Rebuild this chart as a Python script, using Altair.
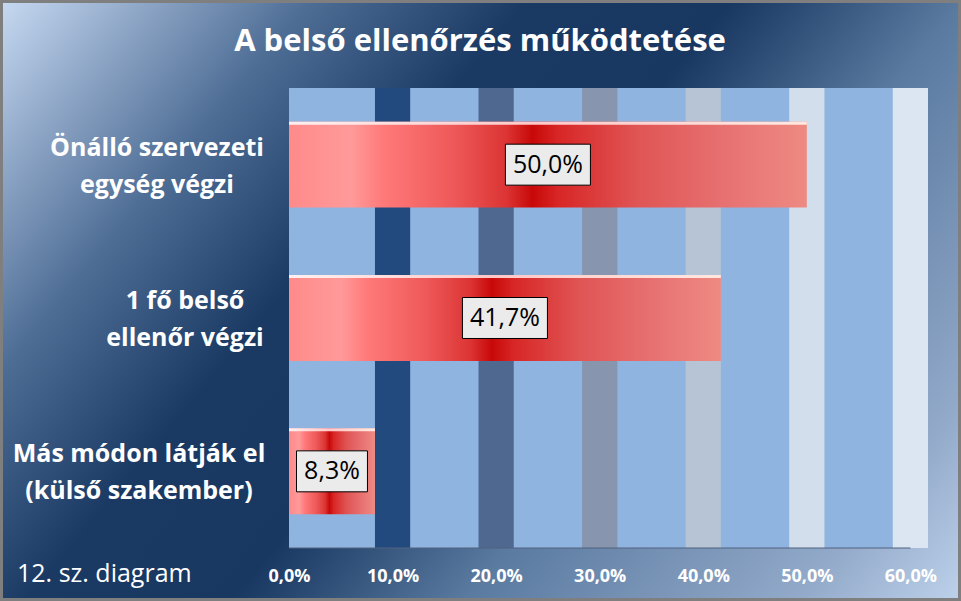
import altair as alt
import pandas as pd

# ---- data ----
categories = ["Önálló szervezeti\negység végzi", "1 fő belső\nellenőr végzi", "Más módon látják el\n(külső szakember)"]
shares = [0.500, 0.417, 0.083]
tick_values = [0.0, 0.1, 0.2, 0.3, 0.4, 0.5, 0.6]
band_ticks = [0.1, 0.2, 0.3, 0.4, 0.5, 0.6]
title_text = "A belső ellenőrzés működtetése"
footnote = "12. sz. diagram"

# ---- styles ----
band_colors = ["#234A7E", "#4E6890", "#8796AE", "#B7C4D6", "#D3DEEC", "#DCE6F2"]
ylab_centers = [-132, -104, -150]
W, H = 639, 460
PAD = {"left": 289, "top": 88, "right": 33, "bottom": 53}
X_MAX = 0.617
FONT = "Open Sans"

df = pd.DataFrame({"cat": categories, "share": shares})
bands = pd.DataFrame({"tick": band_ticks, "color": band_colors})

xscale = alt.Scale(domain=[0, X_MAX], nice=False, zero=True)
yscale = alt.Scale(domain=categories, paddingInner=0.44, paddingOuter=0.22)
one = alt.Data(values=[{}])

x_axis = alt.Axis(
    values=tick_values,
    labelExpr="replace(format(datum.value, '.1%'), '.', ',')",
    domain=False, ticks=False, grid=False, title=None,
    labelColor="white", labelFont=FONT, labelFontWeight="bold", labelFontSize=18,
    labelPadding=19, labelFlush=False, labelOverlap=False, zindex=1,
)

bg_grad = alt.LinearGradient(
    gradient="linear", x1=0, y1=0, x2=1.197, y2=0.624,
    stops=[
        alt.GradientStop(offset=0.0, color="#C6D9F1"),
        alt.GradientStop(offset=0.10, color="#8EA6C6"),
        alt.GradientStop(offset=0.21, color="#4F6E96"),
        alt.GradientStop(offset=0.36, color="#1A3A64"),
        alt.GradientStop(offset=0.50, color="#183761"),
        alt.GradientStop(offset=0.66, color="#5A7AA0"),
        alt.GradientStop(offset=0.89, color="#93AACA"),
        alt.GradientStop(offset=1.0, color="#BDD1EA"),
    ],
)
bg = alt.Chart(one).mark_rect(fill=bg_grad, stroke="#7F7F7F", strokeWidth=3).encode(
    x=alt.value(-PAD["left"] + 1.5), x2=alt.value(W + PAD["right"] - 1.5),
    y=alt.value(-PAD["top"] + 1.5), y2=alt.value(H + PAD["bottom"] - 1.5),
)

plot_bg = alt.Chart(one).mark_rect(color="#8FB4E0").encode(
    x=alt.value(0), x2=alt.value(W), y=alt.value(0), y2=alt.value(H)
)

band_layer = alt.Chart(bands).transform_calculate(
    lo="datum.tick - 0.017", hi="datum.tick + 0.017"
).mark_rect().encode(
    x=alt.X("lo:Q", scale=xscale, axis=x_axis),
    x2="hi:Q",
    y=alt.value(0), y2=alt.value(H),
    color=alt.Color("color:N", scale=None),
)

rule = alt.Chart(alt.Data(values=[{"a": tick_values[0], "b": tick_values[-1]}])).mark_rule(
    color="#50627E", strokeWidth=1
).encode(x=alt.X("a:Q", scale=xscale, axis=x_axis), x2="b:Q", y=alt.value(H))

bar_grad = alt.LinearGradient(
    gradient="linear", x1=0, y1=0, x2=1, y2=0,
    stops=[
        alt.GradientStop(offset=0.0, color="#FF8A8A"),
        alt.GradientStop(offset=0.12, color="#FF9A9A"),
        alt.GradientStop(offset=0.18, color="#FF7A7A"),
        alt.GradientStop(offset=0.32, color="#EE5858"),
        alt.GradientStop(offset=0.42, color="#DC3434"),
        alt.GradientStop(offset=0.47, color="#C80808"),
        alt.GradientStop(offset=0.52, color="#D82626"),
        alt.GradientStop(offset=0.67, color="#E05454"),
        alt.GradientStop(offset=0.86, color="#E87474"),
        alt.GradientStop(offset=1.0, color="#EE8A82"),
    ],
)
hl_grad = alt.LinearGradient(
    gradient="linear", x1=0, y1=0, x2=1, y2=0,
    stops=[
        alt.GradientStop(offset=0.0, color="#FFF0F0"),
        alt.GradientStop(offset=0.47, color="#FFC8C8"),
        alt.GradientStop(offset=1.0, color="#FFE8E0"),
    ],
)

bars = alt.Chart(df).mark_bar(fill=bar_grad).encode(
    x=alt.X("share:Q", scale=xscale, axis=x_axis),
    y=alt.Y("cat:N", scale=yscale, axis=None, sort=None),
)
hl = alt.Chart(df).mark_bar(fill=hl_grad, size=3, yOffset=-41.5).encode(
    x=alt.X("share:Q", scale=xscale, axis=x_axis),
    y=alt.Y("cat:N", scale=yscale, axis=None, sort=None),
)

path5 = "M-1,-0.482L1,-0.482L1,0.482L-1,0.482Z"
path4 = "M-0.835,-0.482L0.835,-0.482L0.835,0.482L-0.835,0.482Z"
lab_base = alt.Chart(df).transform_calculate(
    mid="datum.share / 2",
    label="replace(format(datum.share, '.1%'), '.', ',')",
)
boxes = lab_base.mark_point(
    filled=True, fill="#EBEBEB", stroke="#000000", strokeWidth=1,
    opacity=1, fillOpacity=1, strokeOpacity=1, size=7225,
).encode(
    x=alt.X("mid:Q", scale=xscale, axis=x_axis),
    y=alt.Y("cat:N", scale=yscale, axis=None, sort=None),
    shape=alt.condition("length(datum.label) == 4", alt.value(path4), alt.value(path5)),
)
labels = lab_base.mark_text(font=FONT, fontSize=25, color="#000000", baseline="middle", align="center").encode(
    x=alt.X("mid:Q", scale=xscale, axis=x_axis),
    y=alt.Y("cat:N", scale=yscale, axis=None, sort=None),
    text="label:N",
)

ylabs = []
for cat, cx in zip(categories, ylab_centers):
    ylabs.append(
        alt.Chart(df).transform_filter(alt.datum.cat == cat).mark_text(
            font=FONT, fontWeight="bold", fontSize=25, color="white",
            lineBreak="\n", lineHeight=37, align="center", baseline="middle", dy=-17,
        ).encode(
            x=alt.value(cx),
            y=alt.Y("cat:N", scale=yscale, axis=None, sort=None),
            text="cat:N",
        )
    )

title = alt.Chart(alt.Data(values=[{"t": title_text}])).mark_text(
    font=FONT, fontWeight="bold", fontSize=31, color="white", align="center", baseline="middle"
).encode(x=alt.value(480 - PAD["left"]), y=alt.value(42 - PAD["top"]), text="t:N")

foot = alt.Chart(alt.Data(values=[{"t": footnote}])).mark_text(
    font=FONT, fontSize=25, color="white", align="left", baseline="alphabetic"
).encode(x=alt.value(17 - PAD["left"]), y=alt.value(582 - PAD["top"]), text="t:N")

chart = alt.layer(
    bg, plot_bg, band_layer, rule, bars, hl, boxes, labels, *ylabs, title, foot
).properties(
    width=W, height=H, padding=PAD,
    autosize=alt.AutoSizeParams(type="none"),
    background="#1F3F6A",
).configure_view(stroke=None)

chart.save("out.html", embed_options={"renderer": "svg", "actions": False})
